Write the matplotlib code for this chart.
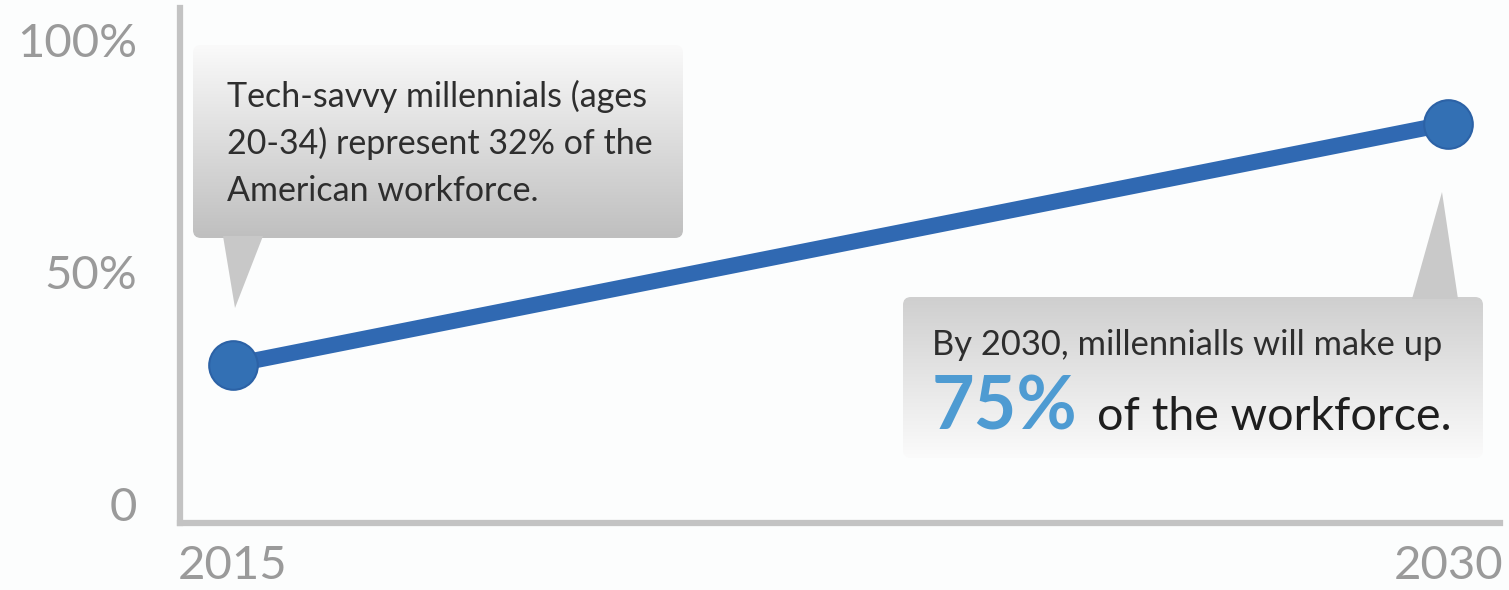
import matplotlib
matplotlib.use("Agg")
import matplotlib.pyplot as plt
import numpy as np
from matplotlib.patches import FancyBboxPatch, Polygon

# ---- data ----
years = [2015, 2030]
share = [30, 82]          # % of workforce (position)
ytick_vals = [0, 50, 100]
ytick_labels = ["0", "50%", "100%"]
xtick_labels = ["2015", "2030"]
note_2015_lines = ["Tech-savvy millennials (ages",
                   "20-34) represent 32% of the",
                   "American workforce."]
note_2030_top = "By 2030, millennialls will make up"
note_2030_big = "75%"
note_2030_rest = "of the workforce."

W, H = 1509, 590
fig = plt.figure(figsize=(W / 100, H / 100), dpi=100)
fig.patch.set_facecolor("#fcfdfd")
plt.rcParams["font.family"] = ["Lato", "DejaVu Sans"]

ax = fig.add_axes([180 / W, 1 - 523 / H, (1500 - 180) / W, (523 - 8) / H])
ax.set_facecolor("none")
ax.set_xlim(2014.35, 2030.64)
ax.set_ylim(-4.1, 106.9)
for s in ["top", "right"]:
    ax.spines[s].set_visible(False)
for s in ["left", "bottom"]:
    ax.spines[s].set_color("#c3c3c3")
    ax.spines[s].set_linewidth(4.5)
ax.set_xticks(years)
ax.set_xticklabels(xtick_labels)
ax.set_yticks(ytick_vals)
ax.set_yticklabels(ytick_labels)
ax.tick_params(axis="both", length=0, colors="#9a9a9a", labelsize=34)
ax.tick_params(axis="y", pad=31)
ax.tick_params(axis="x", pad=16)

ax.plot(years, share, color="#3069b2", lw=11.5, solid_capstyle="butt", zorder=3)
ax.plot(years, share, "o", ms=35, mfc="#3370b4", mec="#2c62a6", mew=1.5, zorder=4)

# ---- overlay in pixel coordinates for callouts ----
ov = fig.add_axes([0, 0, 1, 1])
ov.set_xlim(0, W)
ov.set_ylim(H, 0)
ov.axis("off")
ov.set_zorder(5)


def grad_box(x0, y0, x1, y1, c_top, c_bot, rad=8):
    patch = FancyBboxPatch((x0, y0), x1 - x0, y1 - y0,
                           boxstyle=f"round,pad=0,rounding_size={rad}",
                           fc="none", ec="none")
    ov.add_patch(patch)
    t = np.linspace(0, 1, 256)[:, None]
    ct = np.array(matplotlib.colors.to_rgb(c_top))
    cb = np.array(matplotlib.colors.to_rgb(c_bot))
    img = ct[None, None, :] * (1 - t[..., None]) + cb[None, None, :] * t[..., None]
    img = np.repeat(img, 2, axis=1)
    im = ov.imshow(img, extent=(x0, x1, y1, y0), aspect="auto", zorder=1)
    im.set_clip_path(patch)


# box 1 (2015)
grad_box(193, 45, 683, 238, "#fafafa", "#bfbfbf")
ov.add_patch(Polygon([[223, 236], [263, 236], [235, 308]], closed=True,
                     fc="#c8c8c8", ec="none", zorder=1))
for i, line in enumerate(note_2015_lines):
    ov.text(227, 107 + 47 * i, line, fontsize=24.5, color="#2e2e2e",
            va="baseline", ha="left", zorder=3)

# box 2 (2030)
grad_box(903, 297, 1483, 458, "#cfcfcf", "#fbfbfb")
ov.add_patch(Polygon([[1412, 299], [1458, 299], [1442, 192]], closed=True,
                     fc="#c9c9c9", ec="none", zorder=1))
ov.text(932, 355, note_2030_top, fontsize=24.8, color="#2e2e2e", va="baseline",
        ha="left", zorder=3)
ov.text(932, 430, note_2030_big, fontsize=53, color="#4e9bd2", fontweight="bold",
        va="baseline", ha="left", zorder=3)
ov.text(1097, 430, note_2030_rest, fontsize=33.5, color="#1e1e1e", va="baseline",
        ha="left", zorder=3)

fig.savefig("out.png", dpi=100, facecolor=fig.get_facecolor())
